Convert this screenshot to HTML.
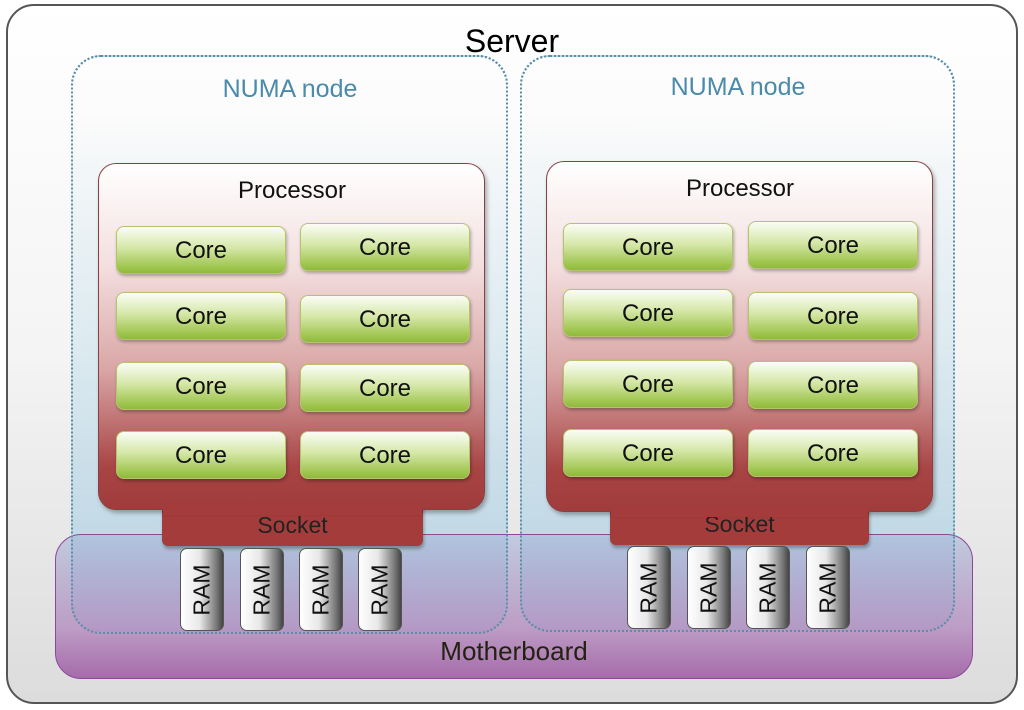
<!DOCTYPE html>
<html><head><meta charset="utf-8"><style>
html,body{margin:0;padding:0;width:1024px;height:710px;background:#fff;overflow:hidden;font-family:"Liberation Sans","DejaVu Sans",sans-serif}
div{position:absolute;box-sizing:border-box}
.server{left:6px;top:4px;width:1012px;height:700px;border:2px solid #555;border-radius:28px;background:linear-gradient(#ffffff,#f4f4f4 50%,#dcdcdc)}
.numa{border:2px dotted #5a8fa8;border-radius:30px;background:linear-gradient(rgba(255,255,255,0) 10%,rgba(205,228,238,.6) 50%,rgba(170,205,225,.8))}
.mb{left:55px;top:534px;width:918px;height:145px;border:1.5px solid #8a4a98;border-radius:26px;background:linear-gradient(rgba(160,180,215,.55),rgba(180,140,190,.8) 65%,rgba(160,95,165,.9))}
.proc{border:1.5px solid #8a4040;border-radius:18px;background:linear-gradient(#fff 0%,#f3dede 30%,#d9a5a5 60%,#a84444 88%,#a03c3c);box-shadow:2px 3px 4px rgba(0,0,0,.3)}
.sock{background:#a43c3c;border-radius:6px;color:#222;font-size:23px;text-align:center;box-shadow:1px 3px 3px rgba(0,0,0,.3)}
.core{width:170px;height:48px;border:1px solid #b5c46c;border-radius:8px;background:linear-gradient(#fbfdf6,#d5e7a8 45%,#9cc34a 90%,#90b83e);font-size:24px;text-align:center;line-height:48px;color:#111;box-shadow:1px 2px 3px rgba(0,0,0,.3)}
.ram{width:44px;height:83px;border:1px solid #555;border-radius:7px;background:linear-gradient(90deg,#fff,#e8e8e8 45%,#777 85%,#444)}
.ram span{position:absolute;left:50%;top:50%;transform:translate(-50%,-50%) rotate(-90deg);font-size:23px;color:#111;white-space:nowrap}
.t{position:absolute;white-space:nowrap;transform:translateX(-50%)}
</style></head><body>
<div class="server"></div>
<div class="t" style="left:512px;top:23px;font-size:32px;color:#000">Server</div>
<div class="numa" style="left:71px;top:55px;width:437px;height:579px"></div>
<div class="numa" style="left:520px;top:55px;width:435px;height:577px"></div>
<div class="mb"></div>
<div class="numa" style="left:71px;top:55px;width:437px;height:579px;background:none"></div>
<div class="numa" style="left:520px;top:55px;width:435px;height:577px;background:none"></div>
<div class="t" style="left:290px;top:75px;font-size:25px;color:#4a8aaa">NUMA node</div>
<div class="t" style="left:738px;top:73px;font-size:25px;color:#4a8aaa">NUMA node</div>
<div class="t" style="left:514px;top:636px;font-size:26px;color:#221">Motherboard</div>

<div class="sock" style="left:162px;top:498px;width:261px;height:48px;line-height:54px">Socket</div>
<div class="sock" style="left:610px;top:498px;width:259px;height:47px;line-height:52px">Socket</div>
<div class="proc" style="left:98px;top:163px;width:387px;height:347px"></div>
<div class="proc" style="left:546px;top:161px;width:387px;height:351px"></div>
<div class="sock" style="left:163px;top:505px;width:259px;height:10px;box-shadow:none;border-radius:0"></div>
<div class="sock" style="left:611px;top:507px;width:257px;height:10px;box-shadow:none;border-radius:0"></div>
<div class="t" style="left:292px;top:177px;font-size:24px;color:#111">Processor</div>
<div class="t" style="left:740px;top:175px;font-size:24px;color:#111">Processor</div>

<div class="core" style="left:116px;top:226px">Core</div>
<div class="core" style="left:300px;top:223px">Core</div>
<div class="core" style="left:116px;top:292px">Core</div>
<div class="core" style="left:300px;top:295px">Core</div>
<div class="core" style="left:116px;top:362px">Core</div>
<div class="core" style="left:300px;top:364px">Core</div>
<div class="core" style="left:116px;top:431px">Core</div>
<div class="core" style="left:300px;top:431px">Core</div>

<div class="core" style="left:563px;top:223px">Core</div>
<div class="core" style="left:748px;top:221px">Core</div>
<div class="core" style="left:563px;top:289px">Core</div>
<div class="core" style="left:748px;top:292px">Core</div>
<div class="core" style="left:563px;top:360px">Core</div>
<div class="core" style="left:748px;top:361px">Core</div>
<div class="core" style="left:563px;top:429px">Core</div>
<div class="core" style="left:748px;top:429px">Core</div>

<div class="ram" style="left:180px;top:548px"><span>RAM</span></div>
<div class="ram" style="left:240px;top:548px"><span>RAM</span></div>
<div class="ram" style="left:299px;top:548px"><span>RAM</span></div>
<div class="ram" style="left:358px;top:548px"><span>RAM</span></div>
<div class="ram" style="left:627px;top:546px"><span>RAM</span></div>
<div class="ram" style="left:687px;top:546px"><span>RAM</span></div>
<div class="ram" style="left:746px;top:546px"><span>RAM</span></div>
<div class="ram" style="left:806px;top:546px"><span>RAM</span></div>
</body></html>
